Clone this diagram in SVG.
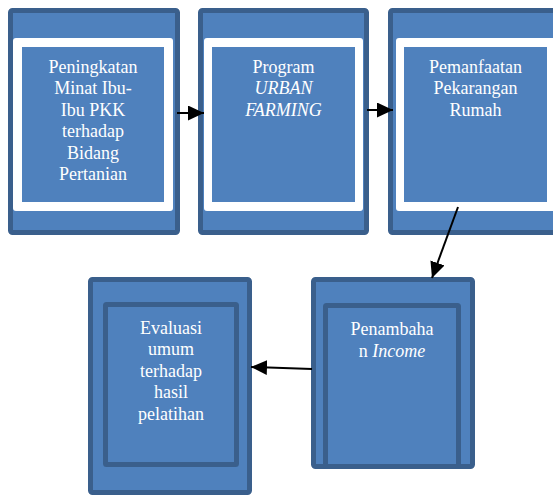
<svg xmlns="http://www.w3.org/2000/svg" width="553" height="496" viewBox="0 0 553 496">
<style>
.outer{fill:#4F81BD;stroke:#3A5F8C;stroke-width:5}
.wframe{fill:#FFFFFF}
.inner{fill:#4F81BD}
.dinner{fill:#4F81BD;stroke:#3A5F8C;stroke-width:5}
.lbl{font-family:'Liberation Serif','Times New Roman',Times,serif;font-size:18px;fill:#FFFFFF;text-anchor:middle}
.it{font-style:italic}
.conn{stroke:#000000;stroke-width:2;fill:none}
</style>
<defs>
<marker id="ah" markerUnits="userSpaceOnUse" markerWidth="18" markerHeight="16" refX="16" refY="7.5" orient="auto">
<path d="M0,0 L16,7.5 L0,15 z" fill="#000000"/>
</marker>
</defs>
<rect width="553" height="496" fill="#FFFFFF"/>
<g id="node1">
<rect class="outer" x="10.5" y="10.5" width="167" height="222" rx="2"/>
<rect class="wframe" x="13" y="38" width="160" height="173" rx="3"/>
<rect class="inner" x="22" y="47" width="142" height="155"/>
<g class="lbl" font-family="Liberation Serif, serif">
<text x="93" y="72.5">Peningkatan</text>
<text x="93" y="94">Minat Ibu-</text>
<text x="93" y="115.5">Ibu PKK</text>
<text x="93" y="137">terhadap</text>
<text x="93" y="158.5">Bidang</text>
<text x="93" y="180">Pertanian</text>
</g>
</g>
<g id="node2">
<rect class="outer" x="200.5" y="10.5" width="166" height="222" rx="2"/>
<rect class="wframe" x="204" y="38" width="159" height="173" rx="3"/>
<rect class="inner" x="212" y="47" width="143" height="155"/>
<g class="lbl" font-family="Liberation Serif, serif">
<text x="283.5" y="72.5">Program</text>
<text class="it" x="283.5" y="94">URBAN</text>
<text class="it" x="283.5" y="115.5">FARMING</text>
</g>
</g>
<g id="node3">
<rect class="outer" x="390.5" y="10.5" width="175" height="222" rx="2"/>
<rect class="wframe" x="396" y="38" width="170" height="173" rx="3"/>
<rect class="inner" x="404" y="47" width="143" height="155"/>
<g class="lbl" font-family="Liberation Serif, serif">
<text x="475.5" y="72.5">Pemanfaatan</text>
<text x="475.5" y="94">Pekarangan</text>
<text x="475.5" y="115.5">Rumah</text>
</g>
</g>
<g id="node4">
<rect class="outer" x="90.5" y="279.5" width="159" height="213" rx="2"/>
<rect class="dinner" x="105.5" y="304.5" width="131" height="160" rx="1"/>
<g class="lbl" font-family="Liberation Serif, serif">
<text x="171" y="333.5">Evaluasi</text>
<text x="171" y="355">umum</text>
<text x="171" y="376.5">terhadap</text>
<text x="171" y="398">hasil</text>
<text x="171" y="419.5">pelatihan</text>
</g>
</g>
<g id="node5">
<rect class="outer" x="313.5" y="279.5" width="159" height="187" rx="2"/>
<rect class="dinner" x="325.5" y="305.5" width="133" height="161" rx="1"/>
<g class="lbl" font-family="Liberation Serif, serif">
<text x="392" y="335">Penambaha</text>
<text x="392" y="356.5">n <tspan class="it">Income</tspan></text>
</g>
</g>
<g id="connectors">
<line class="conn" x1="177" y1="113" x2="204" y2="113" marker-end="url(#ah)"/>
<line class="conn" x1="367" y1="110" x2="393" y2="110" marker-end="url(#ah)"/>
<line class="conn" x1="458" y1="207" x2="432" y2="278" marker-end="url(#ah)"/>
<line class="conn" x1="312" y1="369" x2="251" y2="367" marker-end="url(#ah)"/>
</g>
</svg>
